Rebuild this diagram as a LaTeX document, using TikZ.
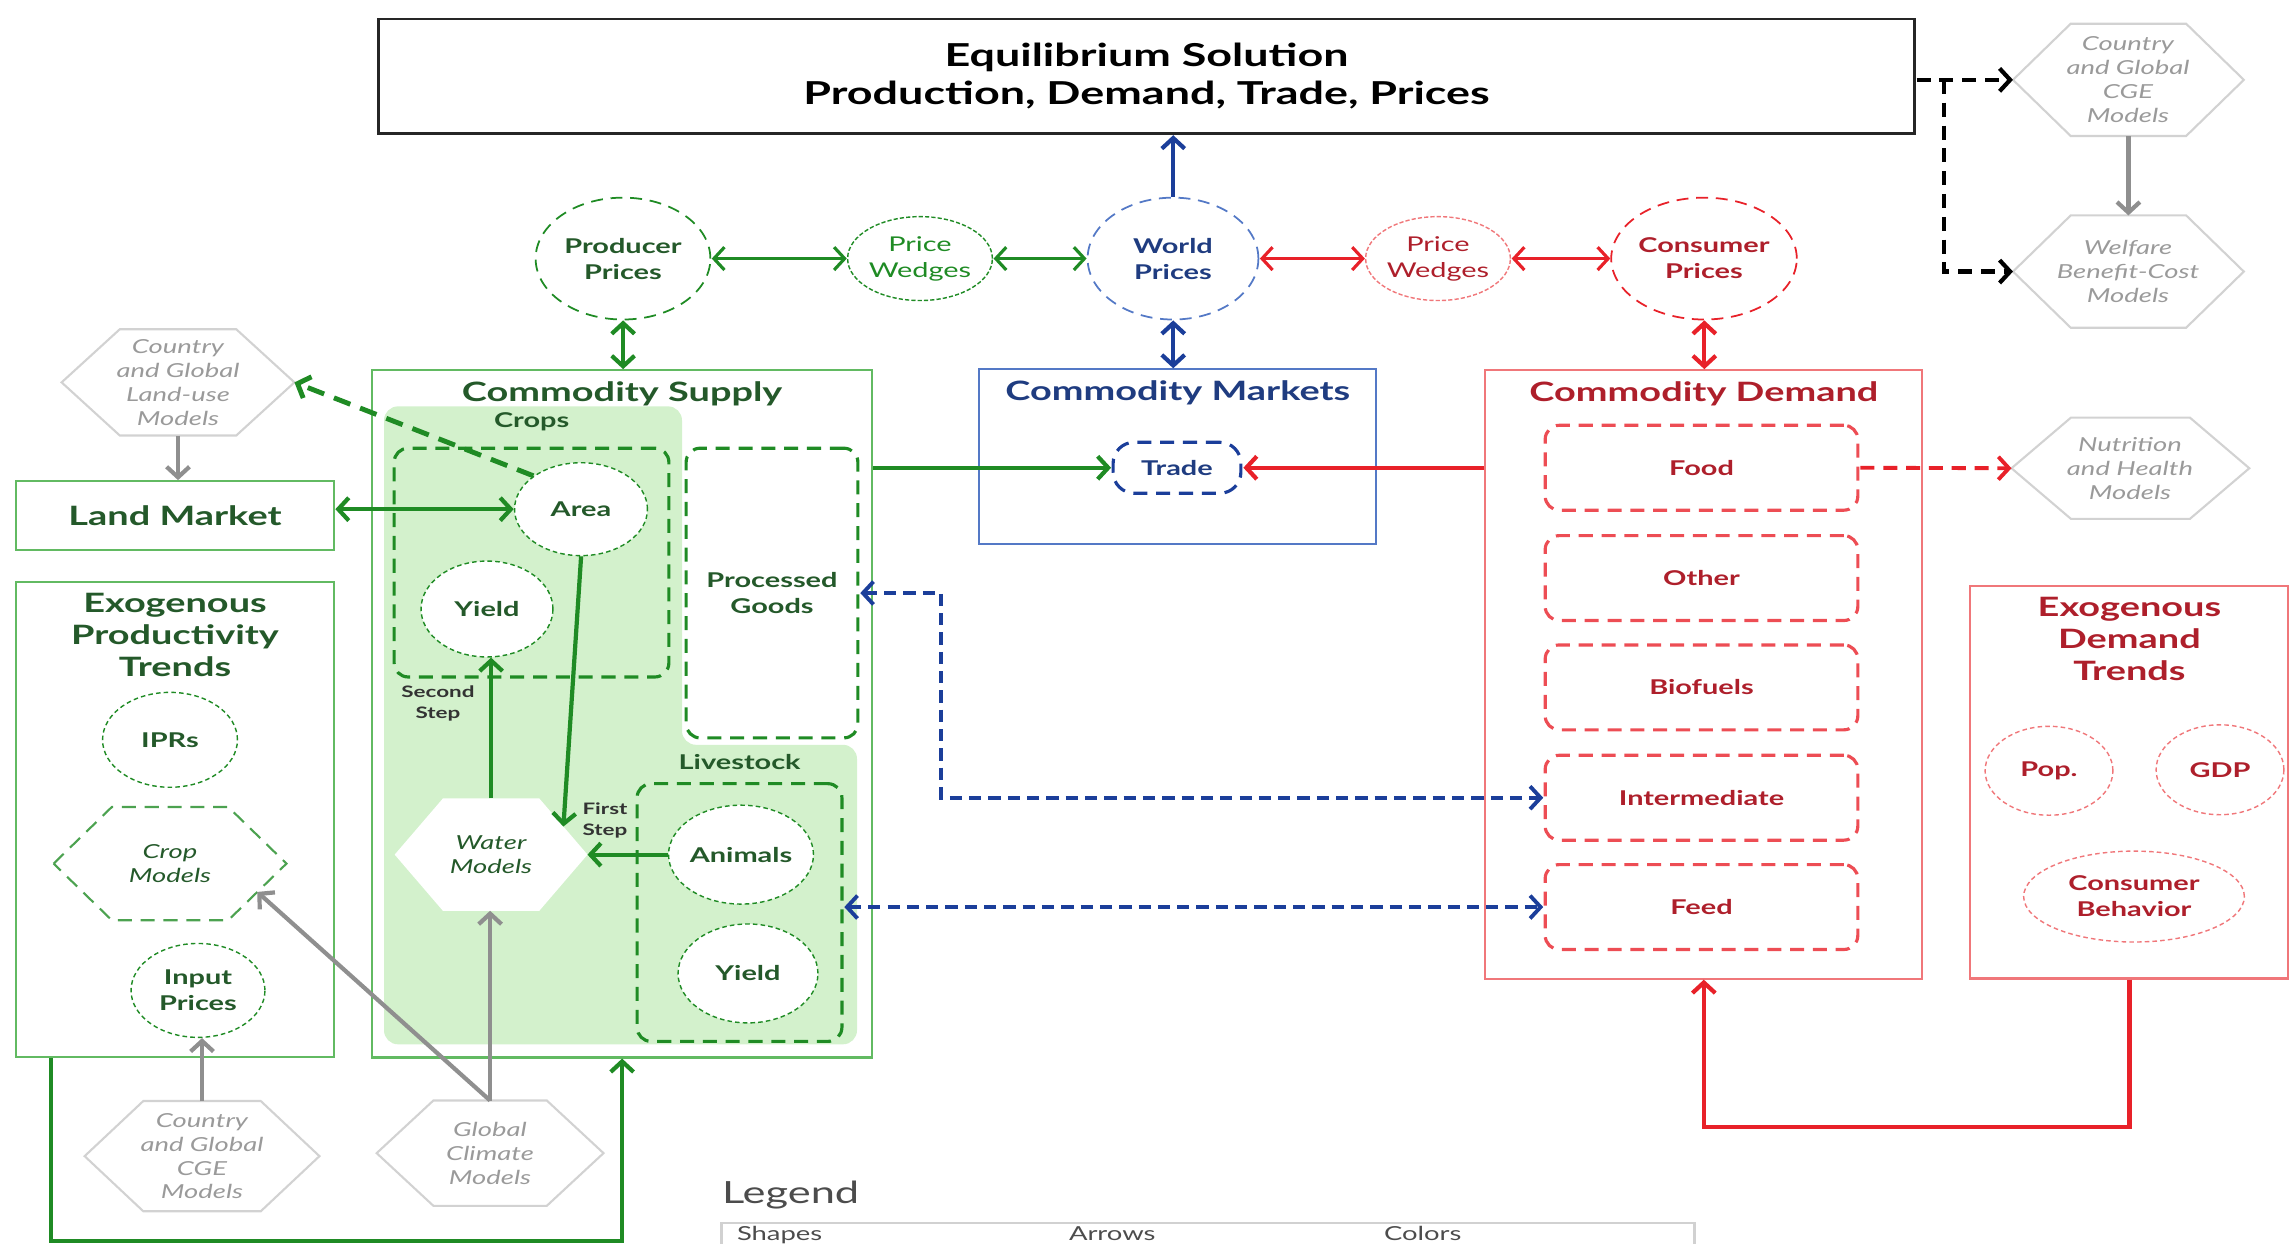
\documentclass[tikz,border=0pt]{standalone}
\usepackage{fontspec}
\setmainfont{Lato}
\usetikzlibrary{shapes.geometric,arrows.meta,positioning,calc,backgrounds}

\definecolor{gline}{HTML}{1F8B24}
\definecolor{gtxt}{HTML}{24592A}
\definecolor{gbox}{HTML}{62BA62}
\definecolor{gshade}{HTML}{D3F1CC}
\definecolor{bline}{HTML}{1B3E9A}
\definecolor{btxt}{HTML}{1F3C80}
\definecolor{bbox}{HTML}{5479C6}
\definecolor{rline}{HTML}{E82129}
\definecolor{rtxt}{HTML}{AE1F2B}
\definecolor{rbox}{HTML}{F0777A}
\definecolor{hexgray}{HTML}{D2D2D2}
\definecolor{hextext}{HTML}{9A9A9A}
\definecolor{grayarrow}{HTML}{8F8F8F}

\newcommand{\hexbox}[2]{\path[#2] (#1.west) -- ($(#1.north west)!.5!(#1.north)$)
  -- ($(#1.north)!.5!(#1.north east)$) -- (#1.east)
  -- ($(#1.south east)!.5!(#1.south)$) -- ($(#1.south)!.5!(#1.south west)$) -- cycle;}

\begin{document}
\begin{tikzpicture}[x=0.0070423cm, y=-0.01cm, xscale=1.42, transform shape,
  >={Straight Barb[length=3pt,width=6.5pt]},
  bigtxt/.style={font=\fontsize{9}{10.8}\selectfont\bfseries, align=center},
  headtxt/.style={font=\fontsize{7.6}{9.1}\selectfont\bfseries, align=center},
  lbltxt/.style={font=\fontsize{5.8}{7.4}\selectfont\bfseries, align=center},
  steptxt/.style={font=\fontsize{4.5}{6}\selectfont\bfseries, align=center, text=black!80},
  hexlbl/.style={font=\fontsize{5.5}{6.8}\selectfont\itshape, align=center, text=hextext, inner sep=0pt},
  box/.style={draw, line width=0.6pt, inner sep=0pt},
  pricering/.style={ellipse, draw, line width=0.5pt, dash pattern=on 3.4pt off 2.2pt, lbltxt, inner sep=0pt},
  wedgering/.style={ellipse, draw, line width=0.4pt, dash pattern=on 1.2pt off 0.6pt, inner sep=0pt,
    font=\fontsize{5.8}{7.4}\selectfont, align=center},
  dotring/.style={ellipse, draw, line width=0.4pt, dash pattern=on 1.3pt off 0.9pt, fill=white, lbltxt, inner sep=0pt},
  dashbox/.style={rectangle, rounded corners=4pt, draw, line width=0.9pt, dash pattern=on 4pt off 2.5pt, lbltxt, inner sep=0pt},
  conn/.style={line width=1.2pt}]
\useasboundingbox (0,0) rectangle (2290,1246);

\node[draw=black!85, line width=0.8pt, minimum width=10.824cm, minimum height=1.15cm, bigtxt] (eq) at (1146.5,76.5) {Equilibrium Solution\\Production, Demand, Trade, Prices};

\node[pricering, draw=gline, text=gtxt, minimum width=1.232cm, minimum height=1.22cm] (prod) at (623,259) {Producer\\Prices};
\node[wedgering, draw=gline, text=gline, minimum width=0.93cm, minimum height=0.84cm] (pwg) at (920,259) {Price\\Wedges};
\node[pricering, draw=bbox, text=btxt, minimum width=1.204cm, minimum height=1.22cm] (world) at (1173,259) {World\\Prices};
\node[wedgering, draw=rbox, text=rtxt, minimum width=0.922cm, minimum height=0.84cm] (pwr) at (1438,259) {Price\\Wedges};
\node[pricering, draw=rline, text=rtxt, minimum width=1.232cm, minimum height=1.22cm] (cons) at (1704,259) {Consumer\\Prices};

\node[hexlbl, minimum width=1.613cm, minimum height=1.11cm] (cgeA) at (2128,80) {Country\\and Global\\CGE\\Models};
\node[hexlbl, minimum width=1.613cm, minimum height=1.11cm] (welf) at (2128,272) {Welfare\\Benefit-Cost\\Models};
\node[hexlbl, minimum width=1.662cm, minimum height=1.0cm] (nutr) at (2130,469) {Nutrition\\and Health\\Models};
\node[hexlbl, minimum width=1.627cm, minimum height=1.05cm] (landuse) at (178,383) {Country\\and Global\\Land-use\\Models};
\node[hexlbl, minimum width=1.641cm, minimum height=1.09cm] (cgeB) at (202,1158) {Country\\and Global\\CGE\\Models};
\node[hexlbl, minimum width=1.585cm, minimum height=1.04cm] (clim) at (490,1155) {Global\\Climate\\Models};
\foreach \hx in {cgeA,welf,nutr,landuse,cgeB,clim} {\hexbox{\hx}{draw=hexgray, line width=0.6pt}}

\node[box, draw=gbox, headtxt, text=gtxt, minimum width=2.239cm, minimum height=0.69cm] (land) at (175,516.5) {Land Market};
\node[box, draw=gbox, minimum width=2.239cm, minimum height=4.76cm] (exoprod) at (175,821) {};
\node[headtxt, text=gtxt, below=0pt of exoprod.north] (exoprodtitle) {Exogenous\\Productivity\\Trends};
\node[dotring, draw=gline, text=gtxt, minimum width=0.951cm, minimum height=0.95cm] (ipr) at (170,741) {IPRs};
\node[hexlbl, text=gtxt, minimum width=1.627cm, minimum height=1.12cm] (cropm) at (170,865) {Crop\\Models};
\hexbox{cropm}{draw=gline!80, line width=0.6pt, dash pattern=on 4pt off 2.5pt}
\node[dotring, draw=gline, text=gtxt, minimum width=0.944cm, minimum height=0.94cm] (inp) at (198,992) {Input\\Prices};

\node[box, draw=gbox, minimum width=3.521cm, minimum height=6.88cm] (supply) at (622,715) {};
\node[headtxt, text=gtxt, below=0pt of supply.north] (supplytitle) {Commodity Supply};
\begin{scope}[on background layer]
\fill[gshade, rounded corners=4pt] (500,407) -| (682,746) -| (857,1046) -| (384,407) -- cycle;
\end{scope}
\node[dashbox, draw=gline, minimum width=1.937cm, minimum height=2.29cm] (crops) at (531.5,563.5) {};
\node[lbltxt, text=gtxt, above=1pt of crops.north] (cropslbl) {Crops};
\node[dotring, draw=gline, text=gtxt, minimum width=0.937cm, minimum height=0.93cm] (area) at (581,510) {Area};
\node[dotring, draw=gline, text=gtxt, minimum width=0.93cm, minimum height=0.96cm] (yieldc) at (487,610) {Yield};
\node[dashbox, draw=gline, fill=white, text=gtxt, minimum width=1.211cm, minimum height=2.9cm] (proc) at (772,594) {Processed\\Goods};
\node[dashbox, draw=gline, minimum width=1.444cm, minimum height=2.58cm] (lives) at (739.5,914) {};
\node[lbltxt, text=gtxt, above=0pt of lives.north] (liveslbl) {Livestock};
\node[dotring, draw=gline, text=gtxt, minimum width=0.979cm, minimum height=0.99cm] (animals) at (741,856) {Animals};
\node[dotring, draw=gline, text=gtxt, minimum width=0.986cm, minimum height=0.99cm] (yieldl) at (748,975) {Yield};
\node[hexlbl, text=gtxt, minimum width=1.345cm, minimum height=1.11cm] (water) at (491,856) {Water\\Models};
\begin{scope}[on background layer]
\hexbox{water}{fill=white}
\end{scope}
\node[steptxt] (step2) at (438,705) {Second\\Step};
\node[steptxt] (step1) at (605,822) {First\\Step};

\node[box, draw=bbox, minimum width=2.796cm, minimum height=1.75cm] (markets) at (1177.5,457.5) {};
\node[headtxt, text=btxt, below=0pt of markets.north] (marketstitle) {Commodity Markets};
\node[dashbox, draw=bline, text=btxt, rounded corners=6pt, minimum width=0.901cm, minimum height=0.51cm] (trade) at (1177,468.5) {Trade};

\node[box, draw=rbox, minimum width=3.077cm, minimum height=6.09cm] (demand) at (1703.5,675.5) {};
\node[headtxt, text=rtxt, below=0pt of demand.north] (demandtitle) {Commodity Demand};
\foreach \nm/\tx/\yy in {food/Food/468.5, other/Other/579, bio/Biofuels/688.5, interm/Intermediate/799, feed/Feed/908.5}
  \node[dashbox, draw=rline!80, text=rtxt, minimum width=2.204cm, minimum height=0.85cm] (\nm) at (1701.5,\yy) {\tx};

\node[box, draw=rbox, minimum width=2.239cm, minimum height=3.93cm] (exodem) at (2129,783.5) {};
\node[headtxt, text=rtxt, below=0pt of exodem.north] (exodemtitle) {Exogenous\\Demand\\Trends};
\node[dotring, draw=rbox, text=rtxt, minimum width=0.901cm, minimum height=0.89cm] (pop) at (2049,772) {Pop.};
\node[dotring, draw=rbox, text=rtxt, minimum width=0.901cm, minimum height=0.90cm] (gdp) at (2220,771) {GDP};
\node[dotring, draw=rbox, text=rtxt, minimum width=1.556cm, minimum height=0.91cm] (behav) at (2134,898) {Consumer\\Behavior};

\node[font=\fontsize{8.7}{10}\selectfont, text=black!70, anchor=base west, inner sep=0pt] (legend) at (721,1205) {Legend};
\node[draw=black!18, line width=0.6pt, minimum width=6.859cm, minimum height=0.8cm, anchor=north west, inner sep=0pt] (legbox) at (720,1224) {};
\foreach \nm/\tx/\xx in {legshapes/Shapes/736, legarrows/Arrows/1068, legcolors/Colors/1383}
  \node[font=\fontsize{5.5}{6.5}\selectfont, text=black!70, anchor=base west, inner sep=0pt] (\nm) at (\xx,1242) {\tx};

\draw[conn, bline, ->] (world.north) -- (world.north |- eq.south);
\draw[conn, bline, <->] (world.south) -- (world.south |- markets.north);
\draw[conn, gline, <->] (prod.south) -- (prod.south |- supply.north);
\draw[conn, rline, <->] (cons.south) -- (cons.south |- demand.north);
\draw[gline, line width=0.9pt, <->] (prod) -- (pwg);
\draw[gline, line width=0.9pt, <->] (pwg) -- (world);
\draw[rline, line width=0.9pt, <->] (world) -- (pwr);
\draw[rline, line width=0.9pt, <->] (pwr) -- (cons);

\coordinate (split) at (1944,80);
\draw[conn, dash pattern=on 4pt off 2.5pt, ->] (eq.east |- split) -- (cgeA.west);
\draw[conn, dash pattern=on 4pt off 2.5pt, ->] (split) |- (welf.west);
\draw[conn, grayarrow, ->] (cgeA.south) -- (welf.north);
\draw[conn, grayarrow, ->] (landuse.south) -- (landuse.south |- land.north);
\draw[conn, grayarrow, ->] (cgeB.north) -- (cgeB.north |- inp.south);
\draw[conn, grayarrow, ->] (clim.north) -- (clim.north |- water.south);
\draw[conn, grayarrow, ->] (clim.north) -- ($(cropm.south)!.5!(cropm.south east)!.5!(cropm.east)$);

\draw[conn, gline, <->] (land.east |- area) -- (area.west);
\draw[gline, line width=1.4pt, dash pattern=on 5pt off 3pt, ->] (area.north west) -- (landuse.east);
\draw[conn, gline, ->] (area.south) -- ($(water.north)!.5!(water.north east)!.5!(water.east)$);
\draw[conn, gline, ->] (water.north) -- (water.north |- yieldc.south);
\draw[conn, gline, ->] (animals.west) -- (water.east);
\draw[conn, gline, ->] (supply.east |- trade) -- (trade.west);
\draw[conn, rline, ->] (demand.west |- trade) -- (trade.east);
\draw[rline, line width=1.1pt, dash pattern=on 4pt off 2.5pt, ->] (food.east) -- (nutr.west);
\draw[bline, line width=1.1pt, dash pattern=on 3.5pt off 2pt, <->] (proc.east) -- ++(81,0) |- (interm.west);
\draw[bline, line width=1.1pt, dash pattern=on 3.5pt off 2pt, <->] (lives.east |- feed) -- (feed.west);
\draw[conn, rline, ->] (exodem.south) -- ++(0,148) -| (demand.south);
\draw[conn, gline, ->] ($(exoprod.south west)+(36,0)$) -- ++(0,183) -| (supply.south);
\end{tikzpicture}
\end{document}
